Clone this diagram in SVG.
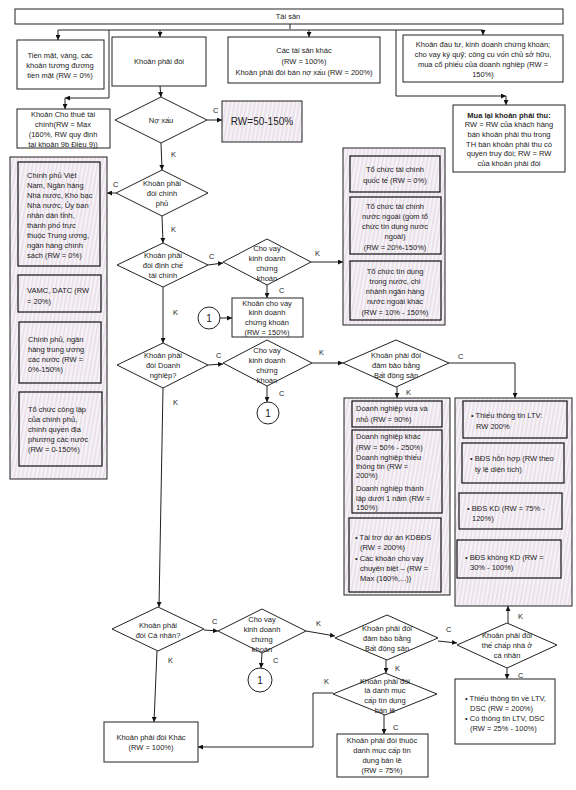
<svg xmlns="http://www.w3.org/2000/svg" width="576" height="790" viewBox="0 0 576 790">
<defs>
<pattern id="hatch" width="4" height="4" patternUnits="userSpaceOnUse" patternTransform="rotate(10)">
<rect width="4" height="4" fill="#f4f3f6"/>
<rect width="1.5" height="4" fill="#ebdbe9"/>
</pattern>
<marker id="ah" viewBox="0 0 10 10" refX="10" refY="5" markerWidth="5" markerHeight="5" orient="auto-start-reverse">
<path d="M0,0 L10,5 L0,10 z" fill="#111"/>
</marker>
</defs>
<style>
.b{fill:#fff;stroke:#222;stroke-width:1}
.g{fill:url(#hatch);stroke:#222;stroke-width:1}
.i{fill:url(#hatch);stroke:#111;stroke-width:1.2}
.d{fill:#fff;stroke:#222;stroke-width:1}
text{font-family:"Liberation Sans",Arial,sans-serif;font-size:7.5px;fill:#222}
.c{text-anchor:middle}
.big{font-size:10px}
.bold{font-weight:bold}
.conn line,.conn path{stroke:#222;stroke-width:1;fill:none}
</style>
<rect width="576" height="790" fill="#fff"/>

<g id="connectors" class="conn">
<path d="M290,24 V29"/>
<path d="M58,30 H483"/>
<line x1="58" y1="30" x2="58" y2="40" marker-end="url(#ah)"/>
<line x1="160" y1="30" x2="160" y2="37" marker-end="url(#ah)"/>
<line x1="309" y1="30" x2="309" y2="37" marker-end="url(#ah)"/>
<line x1="483" y1="30" x2="483" y2="35" marker-end="url(#ah)"/>
<path d="M109,30 V98 H65" marker-end="url(#ah)"/>
<line x1="65" y1="98" x2="65" y2="109" marker-end="url(#ah)"/>
<path d="M396,30 V96 H506" marker-end="url(#ah)"/>
<line x1="506" y1="96" x2="506" y2="105" marker-end="url(#ah)"/>
<line x1="160" y1="86" x2="161" y2="97" marker-end="url(#ah)"/>
<line x1="207" y1="120" x2="222" y2="120" marker-end="url(#ah)"/>
<line x1="161" y1="143" x2="162" y2="170" marker-end="url(#ah)"/>
<line x1="116" y1="193" x2="107" y2="193" marker-end="url(#ah)"/>
<line x1="162" y1="216" x2="163" y2="243" marker-end="url(#ah)"/>
<line x1="208" y1="265" x2="223" y2="263" marker-end="url(#ah)"/>
<line x1="311" y1="262" x2="343" y2="262" marker-end="url(#ah)"/>
<line x1="267" y1="285" x2="267" y2="298" marker-end="url(#ah)"/>
<line x1="220" y1="318" x2="232" y2="318" marker-end="url(#ah)"/>
<line x1="163" y1="287" x2="163" y2="343" marker-end="url(#ah)"/>
<line x1="208" y1="365" x2="223" y2="364" marker-end="url(#ah)"/>
<line x1="267" y1="386" x2="267" y2="402" marker-end="url(#ah)"/>
<line x1="312" y1="363" x2="343" y2="363" marker-end="url(#ah)"/>
<path d="M449,363 H515 V398" marker-end="url(#ah)"/>
<line x1="397" y1="387" x2="397" y2="398" marker-end="url(#ah)"/>
<line x1="163" y1="388" x2="159" y2="607" marker-end="url(#ah)"/>
<line x1="204" y1="630" x2="218" y2="631" marker-end="url(#ah)"/>
<line x1="262" y1="653" x2="261" y2="668" marker-end="url(#ah)"/>
<line x1="157" y1="651" x2="154" y2="722" marker-end="url(#ah)"/>
<line x1="306" y1="631" x2="335" y2="636" marker-end="url(#ah)"/>
<line x1="438" y1="641" x2="457" y2="643" marker-end="url(#ah)"/>
<line x1="508" y1="623" x2="508" y2="606" marker-end="url(#ah)"/>
<line x1="507" y1="668" x2="507" y2="679" marker-end="url(#ah)"/>
<line x1="386" y1="660" x2="386" y2="673" marker-end="url(#ah)"/>
<path d="M333,693 H313 V747 H198" marker-end="url(#ah)"/>
<line x1="384" y1="715" x2="384" y2="734" marker-end="url(#ah)"/>
</g>

<g id="labels">
<text x="213" y="113">C</text>
<text x="171" y="157">K</text>
<text x="113" y="187">C</text>
<text x="171" y="232">K</text>
<text x="209" y="259">C</text>
<text x="315" y="256">K</text>
<text x="279" y="293">C</text>
<text x="173" y="315">K</text>
<text x="216" y="358">C</text>
<text x="319" y="355">K</text>
<text x="279" y="396">C</text>
<text x="458" y="359">C</text>
<text x="406" y="395">K</text>
<text x="173" y="405">K</text>
<text x="212" y="624">C</text>
<text x="273" y="663">C</text>
<text x="168" y="663">K</text>
<text x="316" y="626">K</text>
<text x="446" y="632">C</text>
<text x="518" y="619">K</text>
<text x="518" y="678">C</text>
<text x="395" y="671">K</text>
<text x="324" y="684">K</text>
<text x="393" y="730">C</text>
</g>

<g id="tai-san">
<rect class="b" x="15" y="9" width="548" height="15"/>
<text class="c" x="288" y="19">Tài sản</text>
</g>

<g id="tien-mat">
<rect class="b" x="17" y="40" width="87" height="49"/>
<text class="c" x="60" y="58">Tiền mặt, vàng, các</text>
<text class="c" x="60" y="68">khoản tương đương</text>
<text class="c" x="60" y="78">tiền mặt (RW = 0%)</text>
</g>

<g id="khoan-phai-doi">
<rect class="b" x="112" y="37" width="94" height="49"/>
<text class="c" x="159" y="64">Khoản phải đòi</text>
</g>

<g id="tai-san-khac">
<rect class="b" x="228" y="37" width="152" height="46"/>
<text class="c" x="304" y="53">Các tài sản khác</text>
<text class="c" x="304" y="64">(RW = 100%)</text>
<text class="c" x="304" y="75">Khoản phải đòi bán nợ xấu (RW = 200%)</text>
</g>

<g id="dau-tu">
<rect class="b" x="403" y="35" width="160" height="47"/>
<text class="c" x="483" y="47">Khoản đầu tư, kinh doanh chứng khoán;</text>
<text class="c" x="483" y="57">cho vay ký quỹ; công cụ vốn chủ sở hữu,</text>
<text class="c" x="483" y="67">mua cổ phiếu của doanh nghiệp (RW =</text>
<text class="c" x="483" y="77">150%)</text>
</g>

<g id="cho-thue">
<rect class="b" x="17" y="109" width="93" height="39"/>
<text class="c" x="63" y="117">Khoản Cho thuê tài</text>
<text class="c" x="63" y="127">chính(RW =  Max</text>
<text class="c" x="63" y="137">(160%, RW quy định</text>
<text class="c" x="63" y="147">tại khoản 9b Điều 9))</text>
</g>

<g id="mua-lai">
<rect class="b" x="453" y="105" width="112" height="67"/>
<text class="c bold" x="509" y="118">Mua lại khoản  phải thu:</text>
<text class="c" x="509" y="127">RW = RW của khách hàng</text>
<text class="c" x="509" y="137">bán khoản phải thu trong</text>
<text class="c" x="509" y="147">TH bán khoản phải thu có</text>
<text class="c" x="509" y="156">quyền truy đòi; RW = RW</text>
<text class="c" x="509" y="166">của khoản phải đòi</text>
</g>

<g id="no-xau">
<polygon class="d" points="161,97 207,120 161,143 115,120"/>
<text class="c" x="161" y="123">Nợ xấu</text>
</g>

<g id="rw-50-150">
<rect class="g" x="222" y="101" width="80" height="41"/>
<text class="c big" x="262" y="125">RW=50-150%</text>
</g>

<g id="chinh-phu">
<polygon class="d" points="162,170 208,193 162,216 116,193"/>
<text class="c" x="162" y="186">Khoản phải</text>
<text class="c" x="162" y="196">đòi chính</text>
<text class="c" x="162" y="206">phủ</text>
</g>

<g id="nhom-chinh-phu">
<rect class="g" x="10" y="157" width="97" height="322"/>
<rect class="i" x="18" y="162" width="82" height="104"/>
<text x="27" y="178">Chính phủ Việt</text>
<text x="27" y="188">Nam, Ngân hàng</text>
<text x="27" y="198">Nhà nước, Kho bạc</text>
<text x="27" y="208">Nhà nước, Ủy ban</text>
<text x="27" y="218">nhân dân tỉnh,</text>
<text x="27" y="228">thành phố trực</text>
<text x="27" y="238">thuộc Trung ương,</text>
<text x="27" y="248">ngân hàng chính</text>
<text x="27" y="258">sách (RW = 0%)</text>
<rect class="i" x="18" y="275" width="83" height="37"/>
<text x="27" y="293">VAMC, DATC (RW</text>
<text x="27" y="304">= 20%)</text>
<rect class="i" x="19" y="322" width="82" height="61"/>
<text x="28" y="342">Chính phủ, ngân</text>
<text x="28" y="352">hàng trung ương</text>
<text x="28" y="362">các nước (RW =</text>
<text x="28" y="372">0%-150%)</text>
<rect class="i" x="19" y="392" width="83" height="74"/>
<text x="28" y="412">Tổ chức công lập</text>
<text x="28" y="422">của chính phủ,</text>
<text x="28" y="432">chính quyền địa</text>
<text x="28" y="442">phương các nước</text>
<text x="28" y="452">(RW = 0-150%)</text>
</g>

<g id="dinh-che">
<polygon class="d" points="163,243 208,265 163,287 117,265"/>
<text class="c" x="163" y="258">Khoản phải</text>
<text class="c" x="163" y="268">đòi định chế</text>
<text class="c" x="163" y="278">tài chính</text>
</g>

<g id="cho-vay-1">
<polygon class="d" points="267,239 311,262 267,285 223,262"/>
<text class="c" x="267" y="251">Cho vay</text>
<text class="c" x="267" y="261">kinh doanh</text>
<text class="c" x="267" y="271">chứng</text>
<text class="c" x="267" y="281">khoán</text>
</g>

<g id="khoan-cho-vay-ckkd">
<rect class="b" x="232" y="298" width="71" height="39"/>
<text class="c" x="267" y="306">Khoản cho vay</text>
<text class="c" x="267" y="315">kinh doanh</text>
<text class="c" x="267" y="325">chứng khoán</text>
<text class="c" x="267" y="335">(RW = 150%)</text>
</g>

<g id="connector-1a">
<circle class="b" cx="209" cy="318" r="11"/>
<text class="c big" x="209" y="322">1</text>
</g>

<g id="nhom-to-chuc">
<rect class="g" x="343" y="148" width="102" height="177"/>
<rect class="i" x="350" y="156" width="90" height="36"/>
<text class="c" x="395" y="172">Tổ chức tài chính</text>
<text class="c" x="395" y="183">quốc tế (RW = 0%)</text>
<rect class="i" x="350" y="197" width="91" height="57"/>
<text class="c" x="395" y="209">Tổ chức tài chính</text>
<text class="c" x="395" y="219">nước ngoài (gồm tổ</text>
<text class="c" x="395" y="229">chức tín dụng nước</text>
<text class="c" x="395" y="239">ngoài)</text>
<text class="c" x="395" y="250">(RW = 20%-150%)</text>
<rect class="i" x="350" y="261" width="91" height="59"/>
<text class="c" x="395" y="274">Tổ chức tín dụng</text>
<text class="c" x="395" y="284">trong nước, chi</text>
<text class="c" x="395" y="294">nhánh ngân hàng</text>
<text class="c" x="395" y="304">nước ngoài khác</text>
<text class="c" x="395" y="315">(RW = 10% - 150%)</text>
</g>

<g id="doanh-nghiep">
<polygon class="d" points="163,343 208,365 163,388 117,365"/>
<text class="c" x="163" y="358">Khoản phải</text>
<text class="c" x="163" y="368">đòi Doanh</text>
<text class="c" x="163" y="378">nghiệp?</text>
</g>

<g id="cho-vay-2">
<polygon class="d" points="267,340 312,363 267,386 223,363"/>
<text class="c" x="267" y="353">Cho vay</text>
<text class="c" x="267" y="363">kinh doanh</text>
<text class="c" x="267" y="373">chứng</text>
<text class="c" x="267" y="383">khoán</text>
</g>

<g id="connector-1b">
<circle class="b" cx="268" cy="413" r="11"/>
<text class="c big" x="268" y="417">1</text>
</g>

<g id="bds-1">
<polygon class="d" points="396,340 449,363 396,387 343,363"/>
<text class="c" x="396" y="358">Khoản phải đòi</text>
<text class="c" x="396" y="368">đảm bảo bằng</text>
<text class="c" x="396" y="378">Bất động sản</text>
</g>

<g id="nhom-doanh-nghiep">
<rect class="g" x="344" y="398" width="106" height="197"/>
<rect class="i" x="352" y="401" width="90" height="26"/>
<text x="356" y="411">Doanh nghiệp vừa và</text>
<text x="356" y="422">nhỏ (RW = 90%)</text>
<rect class="i" x="352" y="430" width="90" height="83"/>
<text x="356" y="439">Doanh nghiệp khác</text>
<text x="356" y="450">(RW = 50% - 250%)</text>
<text x="356" y="460">Doanh nghiệp thiếu</text>
<text x="356" y="469">thông tin (RW =</text>
<text x="356" y="478">200%)</text>
<text x="356" y="491">Doanh nghiệp thành</text>
<text x="356" y="501">lập dưới 1 năm (RW =</text>
<text x="356" y="510">150%)</text>
<rect class="i" x="349" y="518" width="92" height="74"/>
<text x="355" y="540">• Tài trợ dự án KDBĐS</text>
<text x="360" y="550">(RW = 200%)</text>
<text x="355" y="561">• Các khoản cho vay</text>
<text x="360" y="571">chuyên biệt – (RW =</text>
<text x="360" y="581">Max (160%,...))</text>
</g>

<g id="nhom-bds">
<rect class="g" x="455" y="398" width="117" height="208"/>
<rect class="i" x="463" y="401" width="104" height="37"/>
<text x="471" y="418">• Thiếu thông tin LTV:</text>
<text x="476" y="429">RW 200%</text>
<rect class="i" x="462" y="443" width="102" height="40"/>
<text x="470" y="461">• BĐS hỗn hợp (RW theo</text>
<text x="475" y="472">tỷ lệ diện tích)</text>
<rect class="i" x="459" y="493" width="103" height="36"/>
<text x="467" y="511">• BĐS KD (RW = 75% -</text>
<text x="472" y="521">120%)</text>
<rect class="i" x="457" y="540" width="104" height="38"/>
<text x="465" y="560">• BĐS không KD (RW =</text>
<text x="470" y="570">30% - 100%)</text>
</g>

<g id="ca-nhan">
<polygon class="d" points="158,607 204,629 158,651 112,629"/>
<text class="c" x="158" y="628">Khoản phải</text>
<text class="c" x="158" y="638">đòi Cá nhân?</text>
</g>

<g id="cho-vay-3">
<polygon class="d" points="262,609 306,631 262,653 218,631"/>
<text class="c" x="262" y="622">Cho vay</text>
<text class="c" x="262" y="632">kinh doanh</text>
<text class="c" x="262" y="642">chứng</text>
<text class="c" x="262" y="652">khoán</text>
</g>

<g id="connector-1c">
<circle class="b" cx="260" cy="680" r="12"/>
<text class="c big" x="260" y="684">1</text>
</g>

<g id="khac">
<rect class="b" x="104" y="722" width="94" height="40"/>
<text class="c" x="151" y="740">Khoản phải đòi Khác</text>
<text class="c" x="151" y="750">(RW = 100%)</text>
</g>

<g id="bds-2">
<polygon class="d" points="387,615 438,638 387,660 335,638"/>
<text class="c" x="387" y="631">Khoản phải đòi</text>
<text class="c" x="387" y="641">đảm bảo bằng</text>
<text class="c" x="387" y="651">Bất động sản</text>
</g>

<g id="the-chap">
<polygon class="d" points="507,623 557,645 507,668 457,645"/>
<text class="c" x="507" y="638">Khoản phải đòi</text>
<text class="c" x="507" y="648">thế chấp nhà ở</text>
<text class="c" x="507" y="658">cá nhân</text>
</g>

<g id="nha-o">
<rect class="b" x="455" y="679" width="100" height="65"/>
<text x="465" y="701">• Thiếu thông tin về LTV,</text>
<text x="470" y="711">DSC (RW = 200%)</text>
<text x="465" y="721">• Có thông tin LTV, DSC</text>
<text x="470" y="731">(RW = 25% - 100%)</text>
</g>

<g id="ban-le">
<polygon class="d" points="385,673 437,694 385,715 333,694"/>
<text class="c" x="385" y="684">Khoản phải đòi</text>
<text class="c" x="385" y="693">là danh mục</text>
<text class="c" x="385" y="703">cấp tín dụng</text>
<text class="c" x="385" y="713">bán lẻ</text>
</g>

<g id="khoan-ban-le">
<rect class="b" x="337" y="734" width="91" height="43"/>
<text class="c" x="382" y="743">Khoản phải đòi thuộc</text>
<text class="c" x="382" y="753">danh mục cấp tín</text>
<text class="c" x="382" y="763">dụng bán lẻ</text>
<text class="c" x="382" y="773">(RW = 75%)</text>
</g>
</svg>
